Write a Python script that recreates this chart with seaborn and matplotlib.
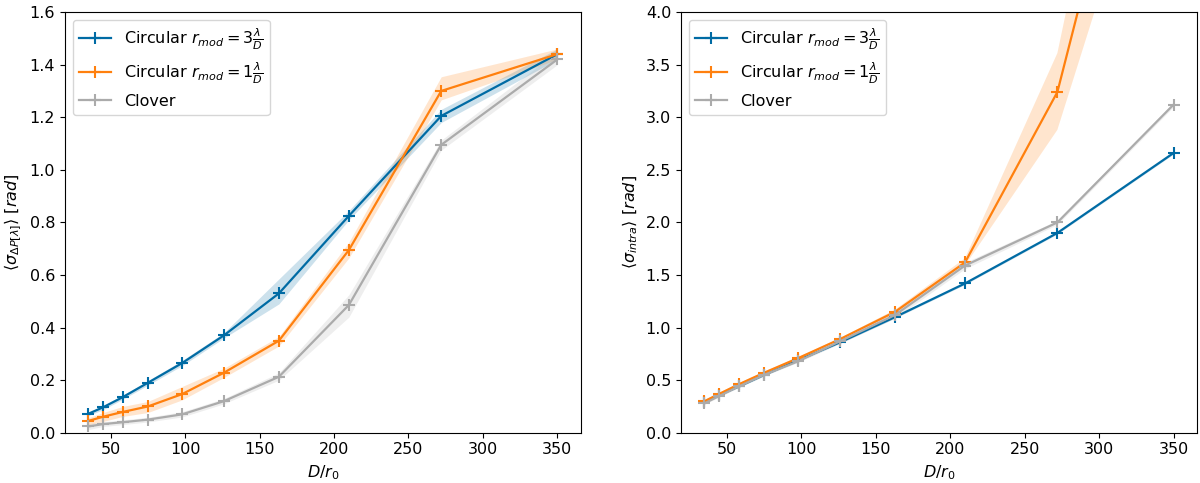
import pandas as pd
import matplotlib
matplotlib.use("Agg")
import matplotlib.pyplot as plt
import seaborn as sns

# D/r0 sampled values
d_r0 = [35, 45, 58, 75, 98, 126, 163, 210, 272, 350]

labels = [r"Circular $r_{mod} = 3\frac{\lambda}{D}$",
          r"Circular $r_{mod} = 1\frac{\lambda}{D}$",
          "Clover"]
colors = ["#006BA4", "#FF800E", "#ABABAB"]

# left panel: <sigma_DeltaP[lambda]>
dp_circ3 = [0.072, 0.097, 0.135, 0.19, 0.265, 0.37, 0.53, 0.825, 1.205, 1.44]
dp_circ3_lo = [0.065, 0.088, 0.127, 0.181, 0.255, 0.36, 0.49, 0.81, 1.18, 1.42]
dp_circ3_hi = [0.078, 0.104, 0.143, 0.198, 0.275, 0.38, 0.585, 0.845, 1.23, 1.46]

dp_circ1 = [0.045, 0.061, 0.079, 0.10, 0.147, 0.228, 0.35, 0.695, 1.30, 1.44]
dp_circ1_lo = [0.03, 0.043, 0.062, 0.077, 0.125, 0.21, 0.33, 0.665, 1.266, 1.42]
dp_circ1_hi = [0.057, 0.077, 0.10, 0.119, 0.176, 0.245, 0.366, 0.725, 1.354, 1.46]

dp_clover = [0.024, 0.033, 0.04, 0.05, 0.07, 0.12, 0.213, 0.486, 1.095, 1.42]
dp_clover_lo = [0.012, 0.024, 0.031, 0.041, 0.06, 0.11, 0.2, 0.44, 1.075, 1.40]
dp_clover_hi = [0.035, 0.042, 0.049, 0.059, 0.08, 0.13, 0.228, 0.525, 1.113, 1.45]

# right panel: <sigma_intra>
intra_circ3 = [0.29, 0.36, 0.44, 0.55, 0.69, 0.86, 1.10, 1.42, 1.90, 2.66]
intra_circ3_lo = [0.28, 0.35, 0.43, 0.54, 0.68, 0.85, 1.09, 1.41, 1.89, 2.65]
intra_circ3_hi = [0.30, 0.37, 0.45, 0.56, 0.70, 0.87, 1.11, 1.43, 1.91, 2.67]

intra_circ1 = [0.30, 0.37, 0.46, 0.57, 0.71, 0.89, 1.15, 1.62, 3.24, 7.57]
intra_circ1_lo = [0.29, 0.36, 0.45, 0.56, 0.70, 0.88, 1.13, 1.59, 2.88, 6.39]
intra_circ1_hi = [0.31, 0.38, 0.47, 0.58, 0.72, 0.90, 1.17, 1.66, 3.61, 8.85]

intra_clover = [0.28, 0.35, 0.44, 0.55, 0.68, 0.87, 1.12, 1.59, 2.00, 3.12]
intra_clover_lo = [0.27, 0.34, 0.43, 0.54, 0.67, 0.85, 1.09, 1.56, 1.98, 3.10]
intra_clover_hi = [0.29, 0.36, 0.45, 0.56, 0.69, 0.89, 1.15, 1.62, 2.02, 3.14]

panels = [
    ([dp_circ3, dp_circ1, dp_clover],
     [dp_circ3_lo, dp_circ1_lo, dp_clover_lo],
     [dp_circ3_hi, dp_circ1_hi, dp_clover_hi],
     r"$\langle\sigma_{\Delta P[\lambda]}\rangle$ $[rad]$", 1.6),
    ([intra_circ3, intra_circ1, intra_clover],
     [intra_circ3_lo, intra_circ1_lo, intra_clover_lo],
     [intra_circ3_hi, intra_circ1_hi, intra_clover_hi],
     r"$\langle\sigma_{intra}\rangle$ $[rad]$", 4.0),
]

plt.rcParams["font.size"] = 11.5

fig, axes = plt.subplots(1, 2, figsize=(12, 4.83), dpi=100)
fig.subplots_adjust(left=0.054, right=0.9975, bottom=0.104, top=0.975, wspace=0.194)

for ax, (means, los, his, ylab, ymax) in zip(axes, panels):
    for mean, lo, hi, lab, c in zip(means, los, his, labels, colors):
        df = pd.DataFrame({"x": d_r0, "y": mean})
        ax.fill_between(d_r0, lo, hi, color=c, alpha=0.2, linewidth=0)
        sns.lineplot(data=df, x="x", y="y", ax=ax, color=c, label=lab,
                     marker="+", markersize=8, markeredgewidth=1.5,
                     markeredgecolor=c, linewidth=1.6, errorbar=None)
    ax.set_ylim(0, ymax)
    ax.set_xlabel(r"$D/r_0$")
    ax.set_ylabel(ylab)
    ax.legend(loc="upper left", fontsize=11.5)

plt.savefig("out.png")
plt.close()
